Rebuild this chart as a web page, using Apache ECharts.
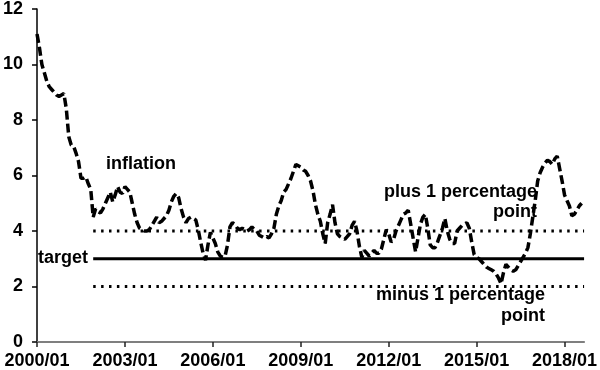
<!DOCTYPE html>
<html>
<head>
<meta charset="utf-8">
<script src="https://cdn.jsdelivr.net/npm/echarts@6/dist/echarts.min.js"></script>
<style>html,body{margin:0;padding:0;background:#fff}#c{width:600px;height:370px}</style>
</head>
<body>
<div id="c"></div>
<script>
// Monthly categories 2000/01 .. 2018/09
var firstYear = 2000, lastYear = 2018, lastMonth = 9;
var categories = [];
for (var y = firstYear; y <= lastYear; y++) {
  for (var mo = 1; mo <= 12; mo++) {
    if (y === lastYear && mo > lastMonth) break;
    categories.push(y + '/' + (mo < 10 ? '0' + mo : mo));
  }
}
// Inflation (%), monthly from 2000/01
var inflation = [
 11.1,10.6,10.0,9.7,9.4,9.2,9.1,9.0,8.9,8.85,8.9,8.95,
 8.4,7.4,7.1,7.05,6.8,6.5,5.9,5.9,5.95,5.7,5.5,4.5,
 4.8,4.7,4.65,4.8,5.0,5.2,5.4,5.05,5.3,5.6,5.4,5.35,
 5.6,5.5,5.4,5.0,4.6,4.3,4.1,4.05,4.0,4.0,4.05,4.2,
 4.35,4.5,4.3,4.35,4.45,4.55,4.75,5.05,5.25,5.35,5.2,4.8,
 4.5,4.3,4.45,4.5,4.45,4.4,4.05,3.6,3.2,2.95,3.5,3.95,
 3.75,3.55,3.25,3.1,3.05,3.1,3.5,4.15,4.3,4.25,4.1,4.05,
 4.1,4.05,4.0,4.05,4.15,4.05,4.0,3.85,3.8,3.75,3.8,3.75,
 3.9,4.1,4.6,4.9,5.1,5.4,5.5,5.7,5.9,6.15,6.4,6.35,
 6.3,6.2,6.15,6.0,5.8,5.45,4.95,4.6,4.35,3.9,3.55,4.3,
 4.6,4.95,4.3,3.9,3.8,3.75,3.7,3.8,3.9,4.2,4.35,4.0,
 3.45,3.05,3.3,3.2,3.1,3.2,3.3,3.2,3.2,3.35,3.7,4.05,
 3.9,3.6,3.7,4.0,4.2,4.4,4.6,4.65,4.75,4.25,3.75,3.25,
 3.75,4.25,4.5,4.6,4.1,3.5,3.4,3.4,3.6,3.85,4.1,4.45,
 4.0,3.7,3.55,3.55,4.0,4.1,4.2,4.25,4.3,4.1,3.6,3.15,
 3.05,3.0,2.9,2.8,2.7,2.65,2.6,2.55,2.45,2.3,2.1,2.5,
 2.8,2.7,2.6,2.55,2.6,2.75,2.9,3.05,3.2,3.4,3.9,4.5,
 5.1,5.8,6.1,6.3,6.45,6.55,6.5,6.4,6.6,6.7,6.25,5.8,
 5.3,5.1,4.9,4.55,4.6,4.75,4.9,5.0
];
var targetLevel = 3;
var bandWidth = 1;
var targetStart = '2001/12';
var targetEnd = '2018/09';
var yTicks = [0, 12, 2]; // min, max, interval

var font = 'Liberation Sans, Arial, sans-serif';
var chart = echarts.init(document.getElementById('c'), null, {renderer: 'canvas'});

function flat(level) {
  return [[targetStart, level], [targetEnd, level]];
}
function label(text, x, y, align) {
  return {type: 'text', x: x, y: y, z: 100,
    style: {text: text, font: 'bold 18px ' + font, fill: '#000', align: align, verticalAlign: 'middle'}};
}

chart.setOption({
  animation: false,
  backgroundColor: '#fff',
  grid: {left: 35, right: 8, top: 6, bottom: 28, containLabel: false},
  xAxis: {
    type: 'category',
    data: categories,
    boundaryGap: false,
    axisLine: {show: true, lineStyle: {color: '#7f7f7f', width: 2}},
    axisTick: {show: true, interval: 35, length: 5, inside: false, lineStyle: {color: '#222', width: 1.5}},
    axisLabel: {interval: 35, margin: 10, color: '#000', fontFamily: font, fontWeight: 'bold', fontSize: 18, hideOverlap: false},
    splitLine: {show: false}
  },
  yAxis: {
    type: 'value',
    min: yTicks[0], max: yTicks[1], interval: yTicks[2],
    axisLine: {show: true, lineStyle: {color: '#000', width: 1.5}},
    axisTick: {show: true, length: 5, inside: false, lineStyle: {color: '#000', width: 1.5}},
    axisLabel: {margin: 14, color: '#000', fontFamily: font, fontWeight: 'bold', fontSize: 18},
    splitLine: {show: false}
  },
  series: [
    {
      name: 'minus', type: 'line', data: flat(targetLevel - bandWidth), symbol: 'none',
      lineStyle: {color: '#000', width: 3, type: [2.5, 5.4]}
    },
    {
      name: 'plus', type: 'line', data: flat(targetLevel + bandWidth), symbol: 'none',
      lineStyle: {color: '#000', width: 3, type: [2.5, 5.4]}
    },
    {
      name: 'target', type: 'line', data: flat(targetLevel), symbol: 'none',
      lineStyle: {color: '#000', width: 3, type: 'solid'}
    },
    {
      name: 'inflation', type: 'line', data: inflation, symbol: 'none',
      lineStyle: {color: '#000', width: 3.5, type: [9, 4]}
    }
  ],
  graphic: [
    label('inflation', 106, 164, 'left'),
    label('plus 1 percentage', 537, 192, 'right'),
    label('point', 537, 212, 'right'),
    label('target', 88, 258, 'right'),
    label('minus 1 percentage', 545, 295, 'right'),
    label('point', 545, 316, 'right')
  ]
});
</script>
</body>
</html>
